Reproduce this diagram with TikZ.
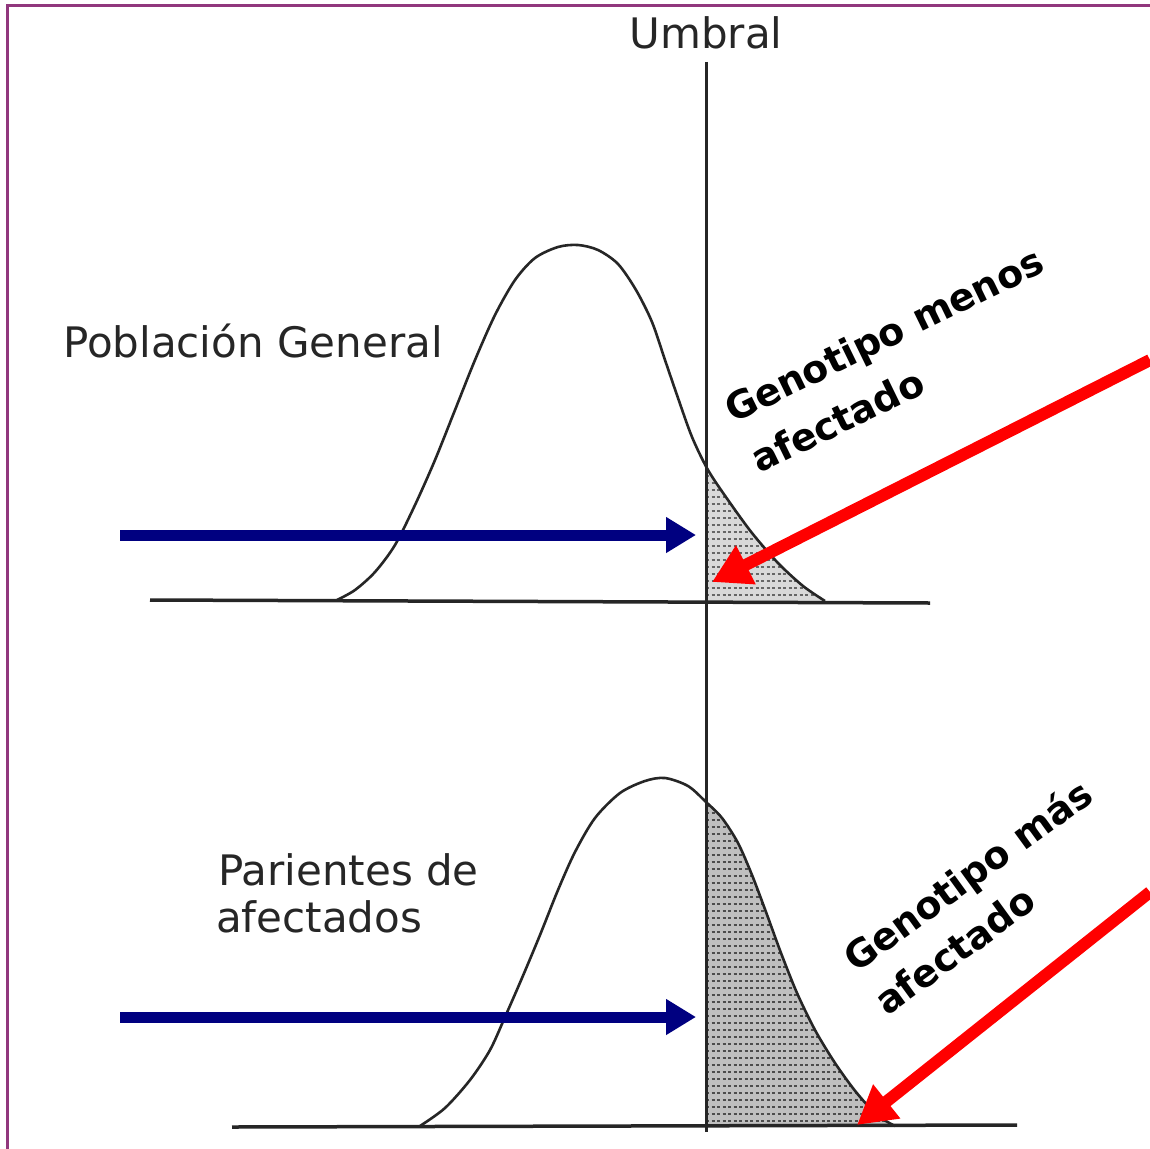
\documentclass[tikz,border=0pt]{standalone}
\usepackage{fontspec}
\setmainfont{DejaVu Sans}
\usetikzlibrary{arrows.meta}
\definecolor{framecol}{RGB}{145,55,125}
\definecolor{navyb}{RGB}{0,0,128}
\definecolor{redarr}{RGB}{255,0,0}
\begin{document}
\begin{tikzpicture}[x=1pt,y=-1pt,
  curve/.style={line width=2.6pt, black!85},
  axisline/.style={line width=3.5pt, black!85},
  graylbl/.style={font=\fontsize{42}{48}\selectfont, text=black!85, inner sep=0pt, anchor=base west},
  boldlbl/.style={font=\fontsize{38}{44}\selectfont\bfseries, text=black, inner sep=0pt, anchor=base west},
  bluearrow/.style={navyb, line width=11pt, -{Triangle[length=30pt,width=34pt]}},
  redarrow/.style={redarr, line width=12pt, -{Triangle[length=38pt,width=41pt]}},
  hatch/.style={black!60, line width=1.4pt, dash pattern=on 3pt off 2.5pt},
]
\useasboundingbox (0,0) rectangle (1150,1148);
\fill[white] (0,0) rectangle (1150,1148);

% frame (cut at right and bottom)
\draw[framecol, line width=3pt] (7,1150) -- (7,6) -- (1152,6);

% ---- top shaded tail
\begin{scope}
  \clip (706,0) rectangle (1150,1148);
  \clip plot[smooth] coordinates {(337,600) (355,590) (375,572) (395,545) (415,505) (435,460) (455,410) (475,360) (495,315) (515,280) (535,258) (558,247) (578,245) (598,250) (618,264) (636,290) (652,322) (665,360) (678,398) (692,437) (708,470) (728,500) (752,533) (778,563) (803,586) (825,601)} -- cycle;
  \fill[black!15] (700,440) rectangle (900,610);
  \foreach \yy in {476,483,...,600} \draw[hatch] (706,\yy) -- (900,\yy);
\end{scope}

% ---- bottom shaded tail
\begin{scope}
  \clip (706,0) rectangle (1150,1148);
  \clip plot[smooth] coordinates {(420,1126) (445,1108) (470,1080) (490,1050) (505,1017) (522,978) (540,935) (558,890) (575,852) (595,818) (620,793) (645,781) (665,778) (688,786) (706,802) (722,818) (738,843) (752,875) (766,912) (781,953) (797,993) (815,1030) (835,1063) (856,1092) (877,1115) (895,1126)} -- cycle;
  \fill[black!25] (700,770) rectangle (900,1130);
  \foreach \yy in {806,813,...,1126} \draw[hatch, black!70] (706,\yy) -- (900,\yy);
\end{scope}

% ---- curves
\draw[curve] plot[smooth] coordinates {(337,600) (355,590) (375,572) (395,545) (415,505) (435,460) (455,410) (475,360) (495,315) (515,280) (535,258) (558,247) (578,245) (598,250) (618,264) (636,290) (652,322) (665,360) (678,398) (692,437) (708,470) (728,500) (752,533) (778,563) (803,586) (825,601)};
\draw[curve] plot[smooth] coordinates {(420,1126) (445,1108) (470,1080) (490,1050) (505,1017) (522,978) (540,935) (558,890) (575,852) (595,818) (620,793) (645,781) (665,778) (688,786) (706,802) (722,818) (738,843) (752,875) (766,912) (781,953) (797,993) (815,1030) (835,1063) (856,1092) (877,1115) (895,1126)};

% ---- axes
\coordinate (ax1l) at (150,600);
\coordinate (ax1r) at (930,603);
\coordinate (ax2l) at (232,1127);
\coordinate (ax2r) at (1017,1125);
\draw[axisline] (ax1l) -- (ax1r);
\draw[axisline] (ax2l) -- (ax2r);

% ---- threshold line
\node[font=\fontsize{42}{48}\selectfont, text=black!85, inner sep=0pt] (umbral) at (706,33) {Umbral};
\coordinate (vtop) at (706,62);
\coordinate (vbot) at (706,1132);
\draw[line width=3pt, black!85] (vtop) -- (vbot);

% ---- labels
\node[graylbl] (pob) at (63,357) {Población General};
\node[graylbl] (par1) at (218,885) {Parientes de};
\node[graylbl] (par2) at (216,932) {afectados};

\node[boldlbl, rotate=26] (gm1) at (733,424) {Genotipo menos};
\node[boldlbl, rotate=26] (gm2) at (759,474) {afectado};
\node[boldlbl, rotate=36] (gp1) at (856,974) {Genotipo más};
\node[boldlbl, rotate=36] (gp2) at (887,1017) {afectado};

% ---- blue arrows
\coordinate (b1s) at (120,535);
\coordinate (b1e) at (696,535);
\coordinate (b2s) at (120,1017);
\coordinate (b2e) at (696,1017);
\draw[bluearrow] (b1s) -- (b1e);
\draw[bluearrow] (b2s) -- (b2e);

% ---- red arrows
\coordinate (r1s) at (1150,360);
\coordinate (r1e) at (712,582);
\coordinate (r2s) at (1150,892);
\coordinate (r2e) at (857,1125);
\draw[redarrow] (r1s) -- (r1e);
\draw[redarrow] (r2s) -- (r2e);
\end{tikzpicture}
\end{document}
